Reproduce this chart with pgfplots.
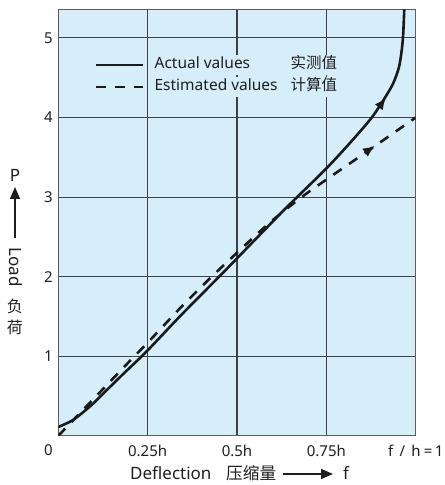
\documentclass[border=0pt]{standalone}
\usepackage{fontspec}
\setmainfont{Noto Sans}
\newfontfamily\cjk{Noto Sans CJK SC}
\usepackage{pgfplots}
\pgfplotsset{compat=1.18}
\usetikzlibrary{arrows.meta}
\definecolor{bg}{HTML}{D6EEFA}
\definecolor{gridc}{HTML}{3E4145}
\definecolor{ink}{HTML}{1A1A1A}
\definecolor{txt}{HTML}{1E1E1E}
\begin{document}
\fontsize{15bp}{18bp}\selectfont
\begin{tikzpicture}
\begin{axis}[
  scale only axis, width=357.4bp, height=426.5bp,
  xmin=0, xmax=1, ymin=0, ymax=5.36,
  axis background/.style={fill=bg},
  axis line style={draw=gridc!85, line width=1.1bp},
  grid=major, major grid style={draw=gridc, line width=1.1bp},
  xtick={0.25,0.5,0.75,1},
  xticklabels={0.25h,0.5h,0.75h,{f\hspace{0.42em}/\hspace{0.42em}h\hspace{0.22em}=\hspace{0.15em}1}},
  ytick={1,2,3,4,5},
  major tick length=0pt,
  /pgf/number format/assume math mode=true,
  ticklabel style={font=\fontsize{15bp}{18bp}\selectfont, text=txt},
  xticklabel style={anchor=north, inner sep=0pt, yshift=-9bp},
  yticklabel style={anchor=east, inner sep=0pt, xshift=-5.5bp},
  legend cell align=left,
  legend image code/.code={\draw[#1] (0bp,0bp) -- (47bp,0bp);},
  legend style={draw=none, fill=none, inner sep=0pt, outer sep=0pt,
    at={(rel axis cs:0.1027,0.8934)}, anchor=north west,
    column sep=8bp, row sep=1.5bp,
    font=\fontsize{15.5bp}{18bp}\selectfont,
    nodes={fill=bg, inner xsep=2bp, inner ysep=3bp, text height=11bp, text depth=3.5bp, text=txt}},
]
\addplot[ink, line width=2.6bp, smooth] coordinates {
(0,0.11)(0.02,0.15)(0.04,0.195)(0.065,0.28)(0.095,0.395)(0.13,0.55)(0.18,0.77)
(0.247,1.06)(0.34,1.50)(0.45,2.0)(0.5,2.23)(0.62,2.785)(0.675,3.03)(0.75,3.36)
(0.82,3.70)(0.877,4.0)(0.914,4.25)(0.937,4.43)(0.953,4.63)(0.961,4.85)(0.965,5.05)(0.968,5.36)};
\addlegendentry{\makebox[136bp][l]{Actual values}{\cjk 实测值}}
\addplot[ink, line width=2.6bp, smooth, dash pattern=on 10bp off 9bp] coordinates {
(0,0)(0.1,0.47)(0.2,0.94)(0.25,1.17)(0.34,1.60)(0.42,1.96)(0.5,2.30)(0.592,2.68)
(0.681,3.0)(0.75,3.22)(0.863,3.57)(1,4.0)};
\addlegendentry{\makebox[136bp][l]{Estimated values}{\cjk 计算值}}
\addplot[ink, line width=2.6bp, -{Latex[length=12bp,width=10bp]}, forget plot] coordinates {(0.897,4.13)(0.917,4.25)};
\addplot[ink, line width=2.6bp, -{Latex[length=12bp,width=10bp]}, forget plot] coordinates {(0.862,3.57)(0.886,3.645)};
\coordinate (O) at (rel axis cs:0,0);
\end{axis}
\begin{scope}[shift={(O)}]
\begin{scope}[shift={(-58.3bp,435.8bp)}, x=1bp, y=-1bp]
  % corner tick label
  \node[anchor=north east, inner sep=0pt, text=txt] at (52.8,444.8) {0};
  % y label
  \node[text=txt, font=\fontsize{17bp}{20bp}\selectfont] at (15,175) {P};
  \draw[txt, line width=1.4bp, -{Triangle[length=12bp,width=10bp]}] (15,238) -- (15,187);
  \node[text=txt, rotate=-90, font=\fontsize{17bp}{20bp}\selectfont] at (15.5,267) {Load};
  \node[text=txt, font=\cjk\fontsize{16bp}{20bp}\selectfont] at (15,306.5) {负};
  \node[text=txt, font=\cjk\fontsize{16bp}{20bp}\selectfont] at (15,327.5) {荷};
  % x label
  \node[anchor=base west, inner sep=0pt, text=txt, font=\fontsize{17bp}{20bp}\selectfont] at (130,479.5) {Deflection};
  \node[anchor=base west, inner sep=0pt, text=txt, font=\cjk\fontsize{16.7bp}{20bp}\selectfont] at (226,479.5) {压缩量};
  \draw[txt, line width=1.4bp, -{Triangle[length=12bp,width=10bp]}] (283,474) -- (333,474);
  \node[anchor=base west, inner sep=0pt, text=txt, font=\fontsize{17bp}{20bp}\selectfont] at (343,479.5) {f};
  \pgfresetboundingbox
  \path[use as bounding box] (0,0) rectangle (445,485);
\end{scope}
\end{scope}
\end{tikzpicture}
\end{document}
